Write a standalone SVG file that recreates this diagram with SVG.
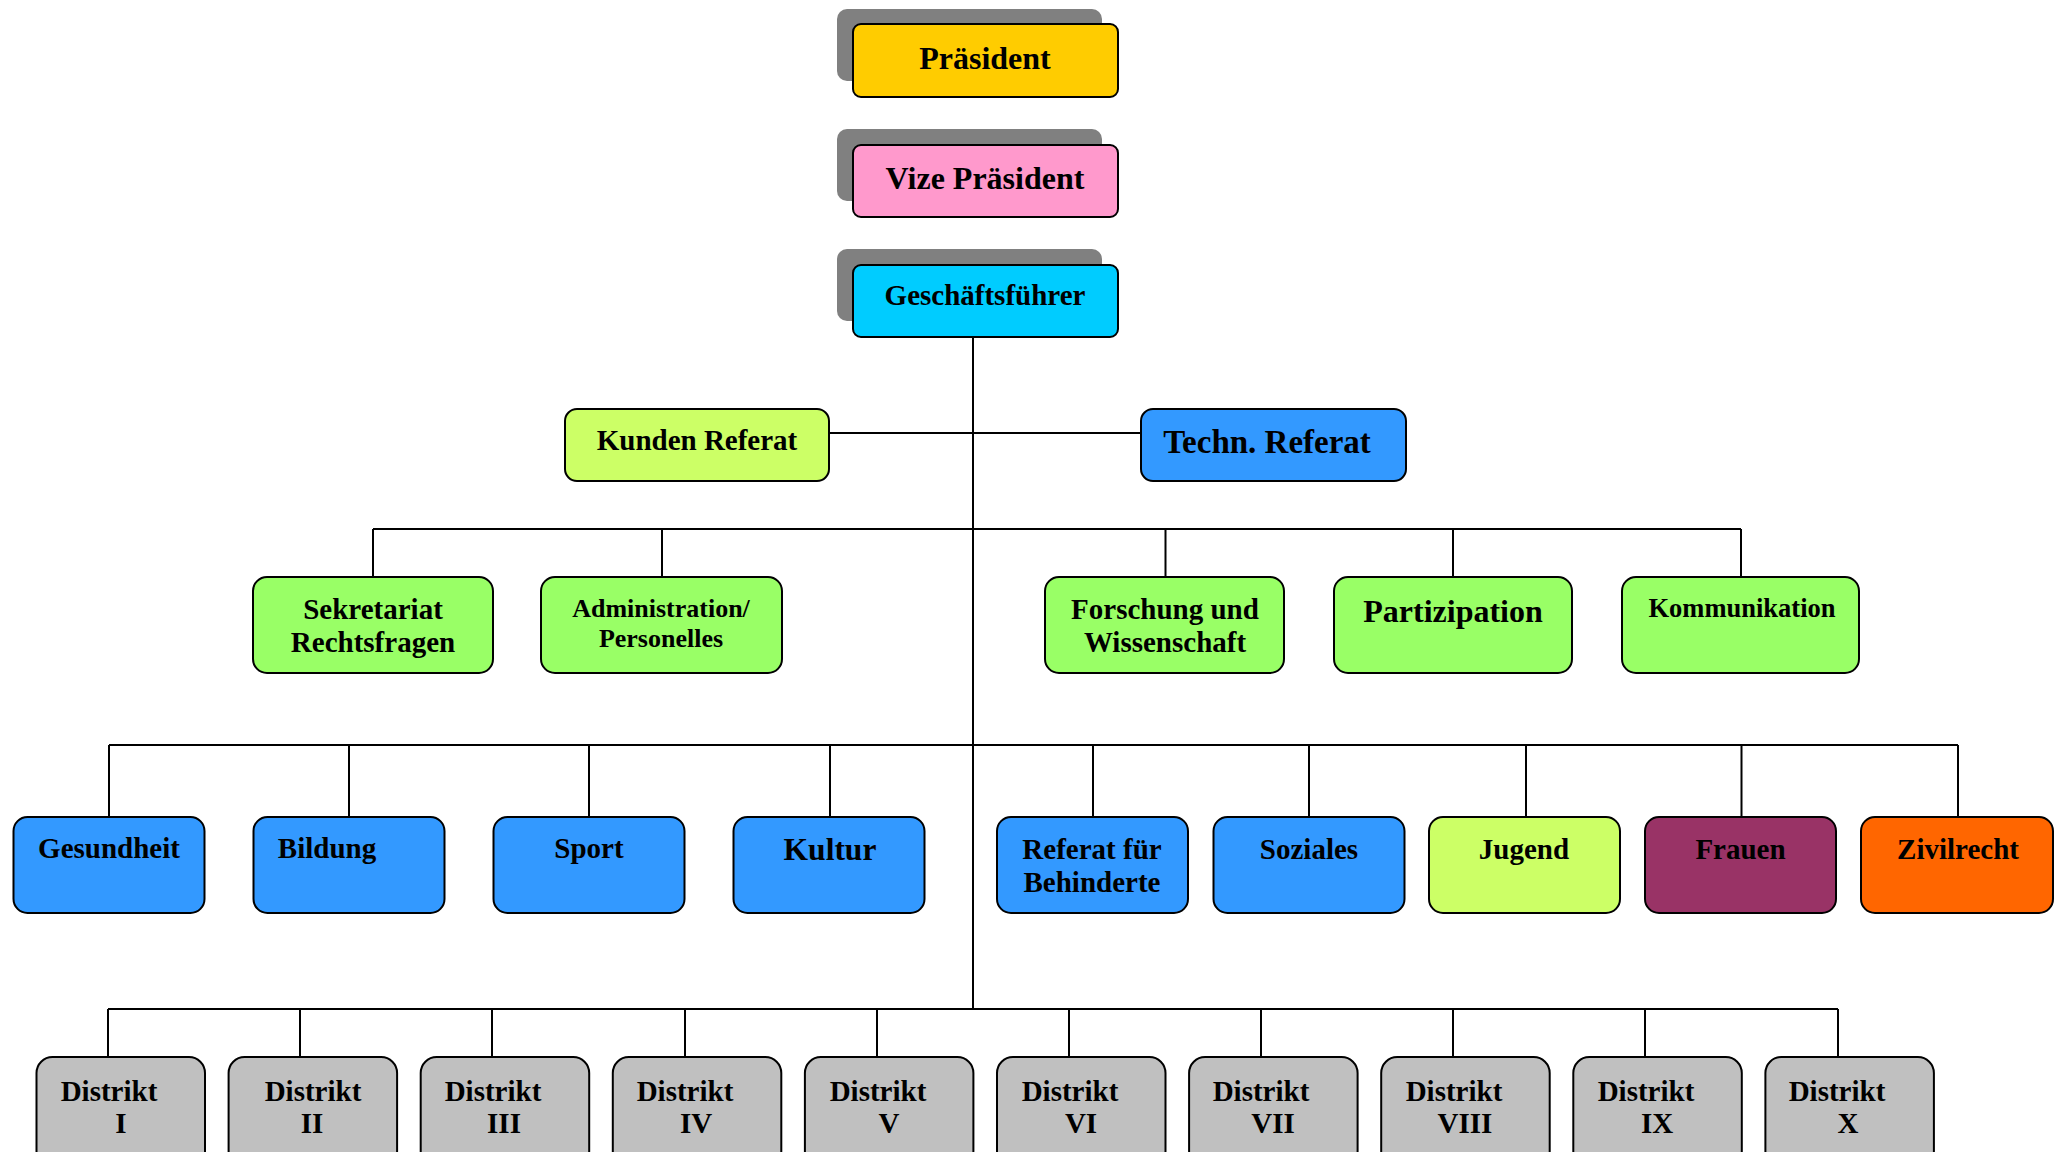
<svg xmlns="http://www.w3.org/2000/svg" width="2058" height="1152" viewBox="0 0 2058 1152">
<style>
.b{stroke:#000;stroke-width:2}
.sh{fill:#808080}
.t{font-family:"Liberation Serif","Times New Roman",serif;font-weight:bold;fill:#000;text-anchor:middle}
.c{stroke:#000;stroke-width:2;fill:none}
</style>
<rect width="2058" height="1152" fill="#fff"/>
<g id="connectors">
<path class="c" d="M973 337V1009"/>
<path class="c" d="M829 433H1141"/>
<path class="c" d="M373 529H1741M373 529V577M662 529V577M1165.5 529V577M1453 529V577M1741 529V577"/>
<path class="c" d="M109 745H1958M109 745V817M349 745V817M589 745V817M830 745V817M1093 745V817M1309 745V817M1526 745V817M1741.5 745V817M1958 745V817"/>
<path class="c" d="M108 1009H1838M108 1009V1057M300 1009V1057M492 1009V1057M685 1009V1057M877 1009V1057M1069 1009V1057M1261 1009V1057M1453 1009V1057M1645 1009V1057M1838 1009V1057"/>
</g>
<g id="praesident">
<rect class="sh" x="837" y="9" width="265" height="72" rx="10"/>
<rect class="b" x="853" y="24" width="265" height="73" rx="8" fill="#FFCC00"/>
<text class="t" x="985" y="69" font-size="32">Präsident</text>
</g>
<g id="vize">
<rect class="sh" x="837" y="129" width="265" height="72" rx="10"/>
<rect class="b" x="853" y="145" width="265" height="72" rx="8" fill="#FF99CC"/>
<text class="t" x="985" y="189" font-size="32">Vize Präsident</text>
</g>
<g id="gf">
<rect class="sh" x="837" y="249" width="265" height="72" rx="10"/>
<rect class="b" x="853" y="265" width="265" height="72" rx="8" fill="#00CCFF"/>
<text class="t" x="985" y="305" font-size="29">Geschäftsführer</text>
</g>
<g id="kunden">
<rect class="b" x="565" y="409" width="264" height="72" rx="12" fill="#CCFF66"/>
<text class="t" x="697" y="450" font-size="29">Kunden Referat</text>
</g>
<g id="techn">
<rect class="b" x="1141" y="409" width="265" height="72" rx="12" fill="#3399FF"/>
<text class="t" x="1267" y="453" font-size="33">Techn. Referat</text>
</g>
<g id="sekretariat">
<rect class="b" x="253" y="577" width="240" height="96" rx="14" fill="#99FF66"/>
<text class="t" x="373" y="619" font-size="29">Sekretariat</text>
<text class="t" x="373" y="652" font-size="29">Rechtsfragen</text>
</g>
<g id="admin">
<rect class="b" x="541" y="577" width="241" height="96" rx="14" fill="#99FF66"/>
<text class="t" x="661" y="617" font-size="26">Administration/</text>
<text class="t" x="661" y="647" font-size="26">Personelles</text>
</g>
<g id="forschung">
<rect class="b" x="1045" y="577" width="239" height="96" rx="14" fill="#99FF66"/>
<text class="t" x="1165" y="619" font-size="29">Forschung und</text>
<text class="t" x="1165" y="652" font-size="29">Wissenschaft</text>
</g>
<g id="partizipation">
<rect class="b" x="1334" y="577" width="238" height="96" rx="14" fill="#99FF66"/>
<text class="t" x="1453" y="622" font-size="32">Partizipation</text>
</g>
<g id="kommunikation">
<rect class="b" x="1622" y="577" width="237" height="96" rx="14" fill="#99FF66"/>
<text class="t" x="1742" y="617" font-size="26.5">Kommunikation</text>
</g>
<g id="gesundheit">
<rect class="b" x="13.5" y="817" width="191" height="96" rx="14" fill="#3399FF"/>
<text class="t" x="109" y="858" font-size="29">Gesundheit</text>
</g>
<g id="bildung">
<rect class="b" x="253.5" y="817" width="191" height="96" rx="14" fill="#3399FF"/>
<text class="t" x="327" y="858" font-size="29">Bildung</text>
</g>
<g id="sport">
<rect class="b" x="493.5" y="817" width="191" height="96" rx="14" fill="#3399FF"/>
<text class="t" x="589" y="858" font-size="29">Sport</text>
</g>
<g id="kultur">
<rect class="b" x="733.5" y="817" width="191" height="96" rx="14" fill="#3399FF"/>
<text class="t" x="830" y="860" font-size="31.5">Kultur</text>
</g>
<g id="behinderte">
<rect class="b" x="997" y="817" width="191" height="96" rx="14" fill="#3399FF"/>
<text class="t" x="1092" y="859" font-size="29">Referat für</text>
<text class="t" x="1092" y="892" font-size="29">Behinderte</text>
</g>
<g id="soziales">
<rect class="b" x="1213.5" y="817" width="191" height="96" rx="14" fill="#3399FF"/>
<text class="t" x="1309" y="859" font-size="29">Soziales</text>
</g>
<g id="jugend">
<rect class="b" x="1429" y="817" width="191" height="96" rx="14" fill="#CCFF66"/>
<text class="t" x="1524" y="859" font-size="29">Jugend</text>
</g>
<g id="frauen">
<rect class="b" x="1645" y="817" width="191" height="96" rx="14" fill="#993366"/>
<text class="t" x="1740.5" y="859" font-size="29">Frauen</text>
</g>
<g id="zivilrecht">
<rect class="b" x="1861" y="817" width="192" height="96" rx="14" fill="#FF6600"/>
<text class="t" x="1958" y="859" font-size="29">Zivilrecht</text>
</g>
<g id="d1"><rect class="b" x="36.5" y="1057" width="168.5" height="110" rx="16" fill="#C0C0C0"/><text class="t" x="109" y="1101" font-size="29">Distrikt</text><text class="t" x="121" y="1133" font-size="29">I</text></g>
<g id="d2"><rect class="b" x="228.6" y="1057" width="168.5" height="110" rx="16" fill="#C0C0C0"/><text class="t" x="313" y="1101" font-size="29">Distrikt</text><text class="t" x="312" y="1133" font-size="29">II</text></g>
<g id="d3"><rect class="b" x="420.7" y="1057" width="168.5" height="110" rx="16" fill="#C0C0C0"/><text class="t" x="493" y="1101" font-size="29">Distrikt</text><text class="t" x="504" y="1133" font-size="29">III</text></g>
<g id="d4"><rect class="b" x="612.8" y="1057" width="168.5" height="110" rx="16" fill="#C0C0C0"/><text class="t" x="685" y="1101" font-size="29">Distrikt</text><text class="t" x="696" y="1133" font-size="29">IV</text></g>
<g id="d5"><rect class="b" x="804.9" y="1057" width="168.5" height="110" rx="16" fill="#C0C0C0"/><text class="t" x="878" y="1101" font-size="29">Distrikt</text><text class="t" x="889" y="1133" font-size="29">V</text></g>
<g id="d6"><rect class="b" x="997" y="1057" width="168.5" height="110" rx="16" fill="#C0C0C0"/><text class="t" x="1070" y="1101" font-size="29">Distrikt</text><text class="t" x="1081" y="1133" font-size="29">VI</text></g>
<g id="d7"><rect class="b" x="1189.1" y="1057" width="168.5" height="110" rx="16" fill="#C0C0C0"/><text class="t" x="1261" y="1101" font-size="29">Distrikt</text><text class="t" x="1273" y="1133" font-size="29">VII</text></g>
<g id="d8"><rect class="b" x="1381.2" y="1057" width="168.5" height="110" rx="16" fill="#C0C0C0"/><text class="t" x="1454" y="1101" font-size="29">Distrikt</text><text class="t" x="1465" y="1133" font-size="29">VIII</text></g>
<g id="d9"><rect class="b" x="1573.3" y="1057" width="168.5" height="110" rx="16" fill="#C0C0C0"/><text class="t" x="1646" y="1101" font-size="29">Distrikt</text><text class="t" x="1657" y="1133" font-size="29">IX</text></g>
<g id="d10"><rect class="b" x="1765.4" y="1057" width="168.5" height="110" rx="16" fill="#C0C0C0"/><text class="t" x="1837" y="1101" font-size="29">Distrikt</text><text class="t" x="1848" y="1133" font-size="29">X</text></g>
</svg>
